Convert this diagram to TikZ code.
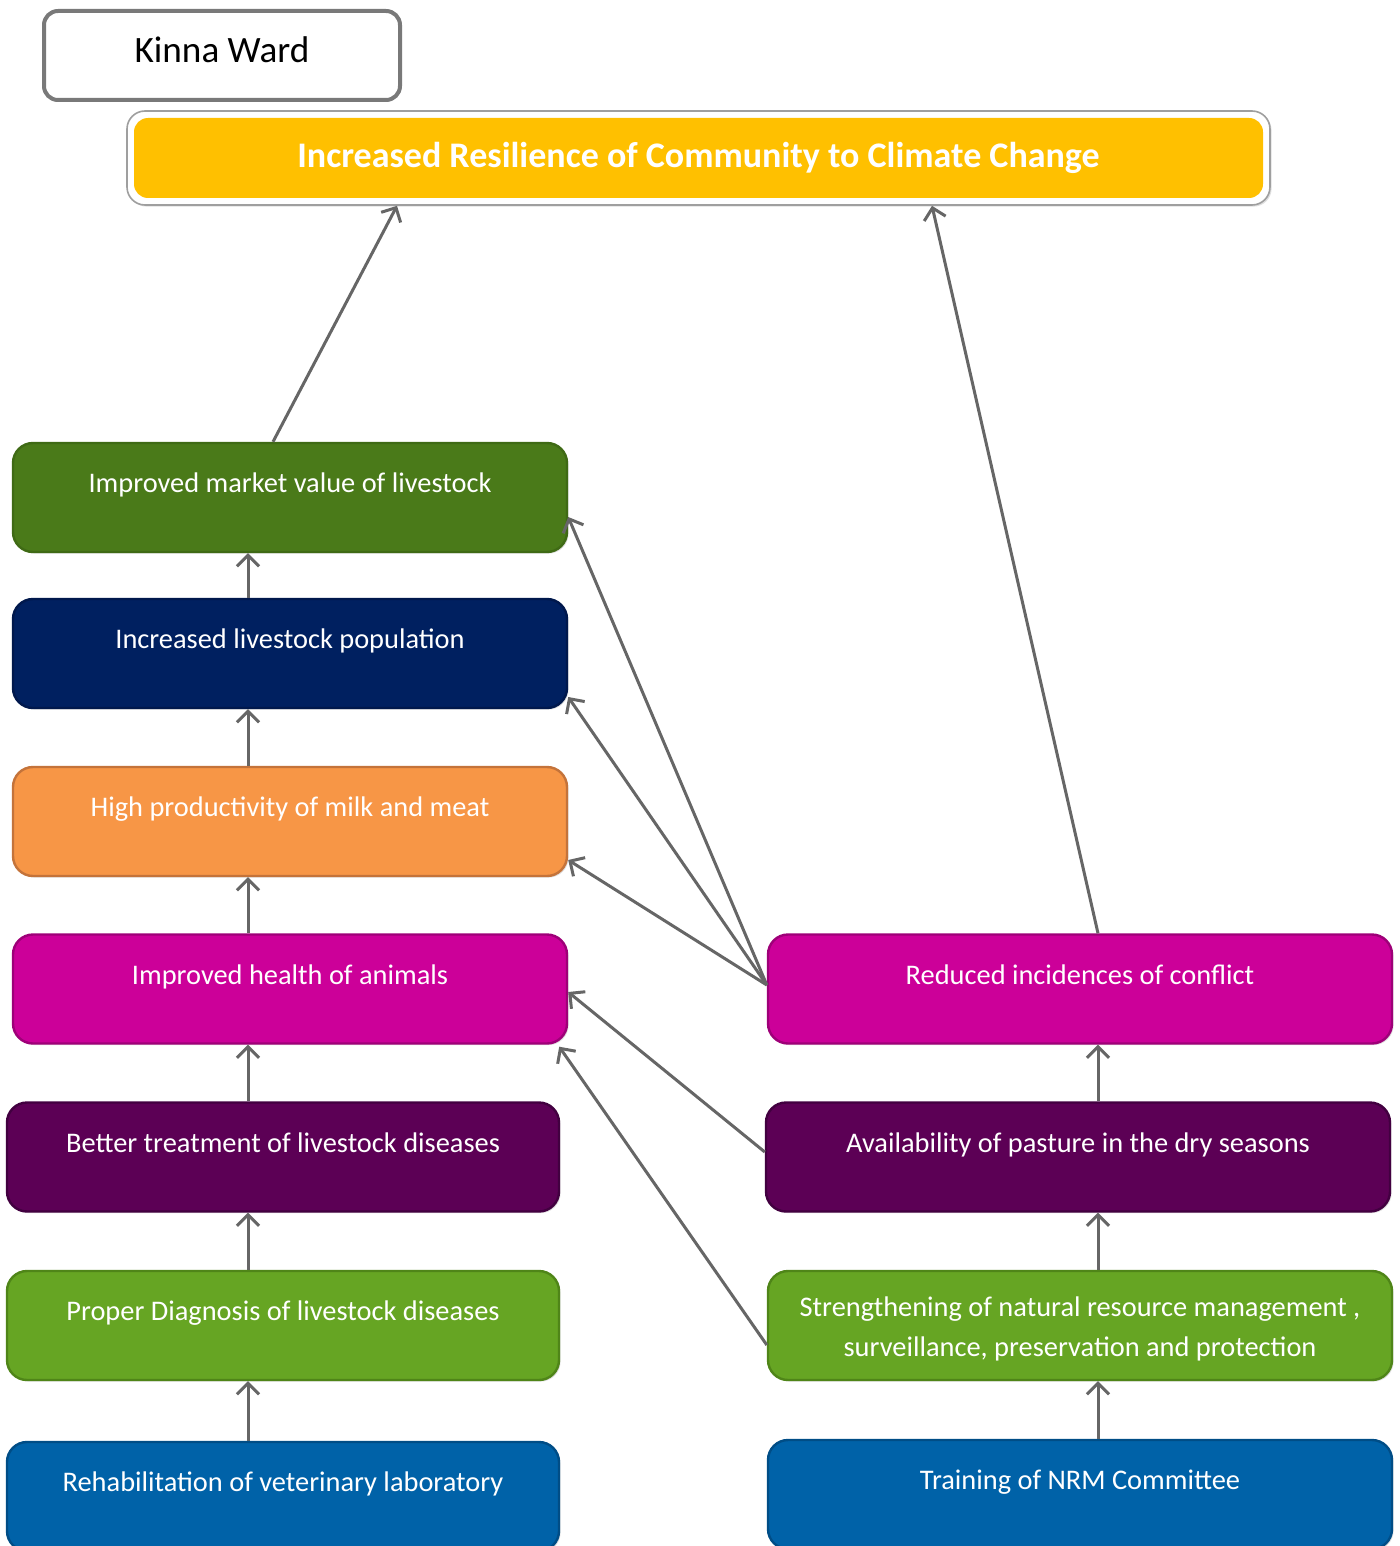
\documentclass[tikz,border=0pt]{standalone}
\usepackage{fontspec}
\setmainfont{Carlito}
\usetikzlibrary{arrows.meta,shadows,calc}

\definecolor{mktFill}{HTML}{4A7A19}
\definecolor{mktLine}{HTML}{3F6A15}
\definecolor{popFill}{HTML}{002060}
\definecolor{popLine}{HTML}{00184C}
\definecolor{prodFill}{HTML}{F79646}
\definecolor{prodLine}{HTML}{C4733A}
\definecolor{magFill}{HTML}{CC0099}
\definecolor{magLine}{HTML}{9E0078}
\definecolor{purFill}{HTML}{5C0055}
\definecolor{purLine}{HTML}{420040}
\definecolor{grnFill}{HTML}{66A523}
\definecolor{grnLine}{HTML}{4F8518}
\definecolor{bluFill}{HTML}{0062A8}
\definecolor{bluLine}{HTML}{004D86}
\definecolor{goalYellow}{HTML}{FFC000}
\definecolor{arrowGray}{HTML}{666666}

\begin{document}
\begin{tikzpicture}[x=0.5pt,y=-0.5pt,
  captext/.style={anchor=center, yshift=-22pt, text=white, align=center,
    font=\fontsize{14.2}{20}\selectfont},
  box/.style={rounded corners=10pt, line width=1.2pt, inner sep=0pt,
    minimum height=54.5pt,
    drop shadow={shadow xshift=0.8pt, shadow yshift=-0.8pt, opacity=0.25}},
  leftbox/.style={box, minimum width=277pt},
  lowbox/.style={box, minimum width=276pt},
  rightbox/.style={box, minimum width=312pt},
  cap/.style={label={[captext, text height=10pt, text depth=3pt]north:{#1}}},
  cap2/.style={label={[captext, yshift=-7.8pt]north:{#1}}},
  wardbox/.style={draw=gray!95!black, line width=2pt, fill=white, rounded corners=7pt,
    minimum width=178pt, minimum height=44.5pt, inner sep=0pt},
  goalbox/.style={draw=gray!75, fill=white, line width=0.8pt, rounded corners=9pt,
    minimum width=571.5pt, minimum height=47pt, inner sep=0pt,
    text=white, font=\bfseries\fontsize{18}{20}\selectfont,
    drop shadow={shadow xshift=0.8pt, shadow yshift=-0.8pt, opacity=0.25},
    path picture={\fill[goalYellow, rounded corners=7pt]
      ([shift={(3.5pt,-3.5pt)}]path picture bounding box.north west) rectangle
      ([shift={(-3.5pt,3.5pt)}]path picture bounding box.south east);}},
  arr/.style={draw=arrowGray, line width=1.5pt,
    -{Straight Barb[length=5.5pt,width=11pt,line width=1.5pt]}}
]
\useasboundingbox (0,0) rectangle (1400,1546);
\clip (0,0) rectangle (1400,1546);

% column guides for the vertical links
\coordinate (colL) at (248,0);
\coordinate (colR) at (1098,0);

% heading and overall goal
\node[wardbox, label={[anchor=center, yshift=2.75pt, font=\fontsize{18.6}{20}\selectfont]center:Kinna Ward}] (ward) at (222,55.5) {};
\node[goalbox] (goal) at (698.5,158) {Increased Resilience of Community to Climate Change};

% livestock chain
\node[leftbox, fill=mktFill, draw=mktLine, cap={Improved market value of livestock}] (market) at (290,497.5) {};
\node[leftbox, fill=popFill, draw=popLine, cap={Increased livestock population}] (pop) at (290,653.5) {};
\node[leftbox, fill=prodFill, draw=prodLine, cap={High productivity of milk and meat}] (prod) at (290,821.5) {};
\node[leftbox, fill=magFill, draw=magLine, cap={Improved health of animals}] (health) at (290,989) {};
\node[lowbox, fill=purFill, draw=purLine, cap={Better treatment of livestock diseases}] (treat) at (283,1157) {};
\node[lowbox, fill=grnFill, draw=grnLine, cap={Proper Diagnosis of livestock diseases}] (diag) at (283,1325.5) {};
\node[lowbox, fill=bluFill, draw=bluLine, cap={Rehabilitation of veterinary laboratory}] (rehab) at (283,1496.5) {};

% natural resource chain
\node[rightbox, fill=magFill, draw=magLine, cap={Reduced incidences of conflict}] (conflict) at (1080,989) {};
\node[rightbox, fill=purFill, draw=purLine, cap={Availability of pasture in the dry seasons}] (pasture) at (1078,1157) {};
\node[rightbox, fill=grnFill, draw=grnLine, cap2={Strengthening of natural resource management ,\\surveillance, preservation and protection}] (nrm) at (1080,1325.5) {};
\node[rightbox, fill=bluFill, draw=bluLine, cap={Training of NRM Committee}] (train) at (1080,1494.5) {};

% vertical links
\draw[arr] (rehab.north -| colL) -- (diag.south -| colL);
\draw[arr] (diag.north -| colL) -- (treat.south -| colL);
\draw[arr] (treat.north -| colL) -- (health.south -| colL);
\draw[arr] (health.north -| colL) -- (prod.south -| colL);
\draw[arr] (prod.north -| colL) -- (pop.south -| colL);
\draw[arr] (pop.north -| colL) -- (market.south -| colL);
\draw[arr] (train.north -| colR) -- (nrm.south -| colR);
\draw[arr] (nrm.north -| colR) -- (pasture.south -| colR);
\draw[arr] (pasture.north -| colR) -- (conflict.south -| colR);

% links to the goal
\draw[arr] ([xshift=-8.5pt]market.north) -- ([xshift=-150.75pt]goal.south);
\draw[arr] (conflict.north -| colR) -- ([xshift=116.75pt]goal.south);

% cross links
\draw[arr] ([yshift=2pt]conflict.west) -- ([yshift=-9.75pt]market.east);
\draw[arr] ([yshift=2pt]conflict.west) -- ([yshift=-21.75pt]pop.east);
\draw[arr] ([yshift=2pt]conflict.west) -- ([yshift=-19.25pt]prod.east);
\draw[arr] ([yshift=2.5pt]pasture.west) -- ([yshift=-1.5pt]health.east);
\draw[arr] ([yshift=-9.75pt]nrm.west) -- ([xshift=-4.5pt,yshift=-1pt]health.south east);
\end{tikzpicture}
\end{document}
